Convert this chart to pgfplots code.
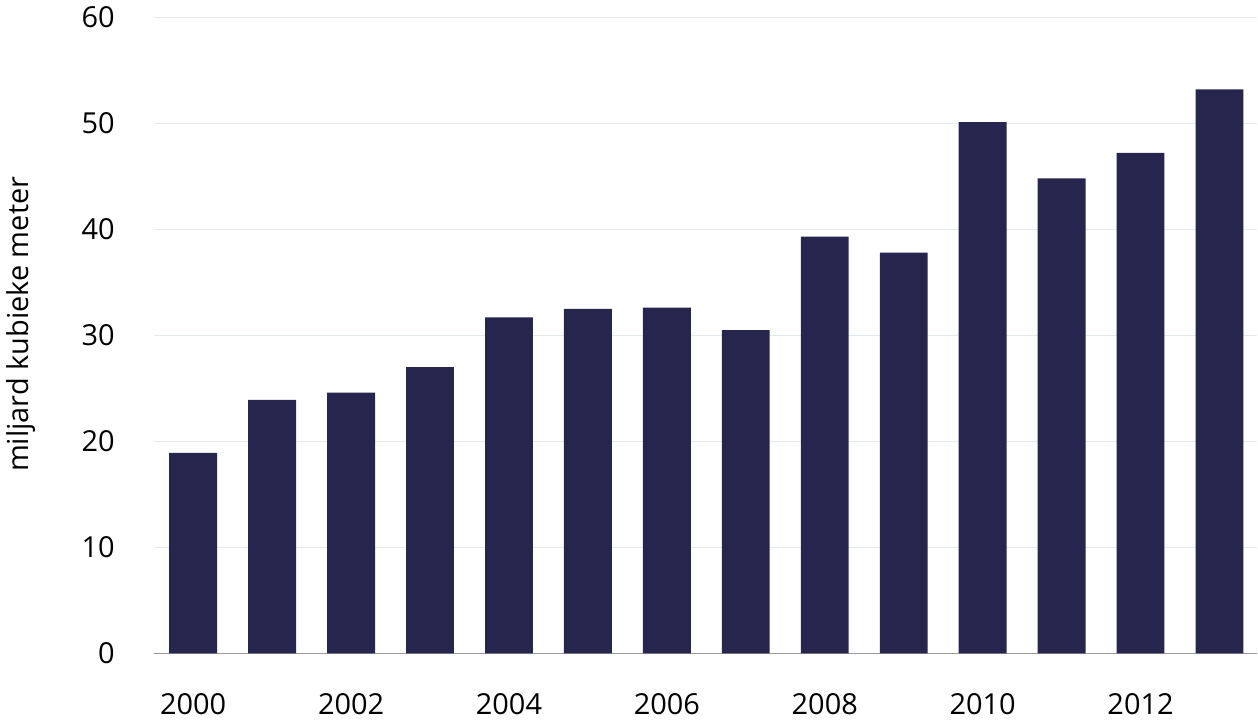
\documentclass[border=0pt]{standalone}
\usepackage{fontspec}
\setmainfont{Open Sans}
\usepackage{pgfplots}
\pgfplotsset{compat=1.18}
\definecolor{barnavy}{HTML}{26254E}
\definecolor{gridgrey}{HTML}{E4E9EE}
\definecolor{axisgrey}{HTML}{9A9A9A}
\begin{document}
\begin{tikzpicture}[font=\fontsize{14.5}{17}\selectfont]
\begin{axis}[
    scale only axis,
    width=553.5pt, height=319pt,
    xmin=-0.5, xmax=13.48,
    ymin=0, ymax=60,
    ytick={0,10,...,60},
    xtick={0,2,...,12},
    xticklabels={2000,2002,2004,2006,2008,2010,2012},
    /pgf/number format/assume math mode=true,
    major tick length=0pt,
    axis x line*=bottom,
    axis y line*=left,
    y axis line style={draw=none},
    x axis line style={axisgrey, line width=0.6pt},
    ymajorgrids=true,
    grid style={gridgrey, line width=0.6pt},
    xticklabel style={yshift=-16.5pt},
    yticklabel style={xshift=-16pt},
    ylabel={miljard kubieke meter},
    every axis y label/.style={at={(axis description cs:0,0.5)}, rotate=90,
        anchor=center, xshift=5.5pt, yshift=66.5pt},
    clip=false,
]
\addplot[ybar, bar width=24pt, fill=barnavy, draw=none]
coordinates {
(0,18.9) (1,23.9) (2,24.6) (3,27.0) (4,31.7) (5,32.5) (6,32.6)
(7,30.5) (8,39.3) (9,37.8) (10,50.1) (11,44.8) (12,47.2) (13,53.2)
};
\end{axis}
\end{tikzpicture}
\end{document}
